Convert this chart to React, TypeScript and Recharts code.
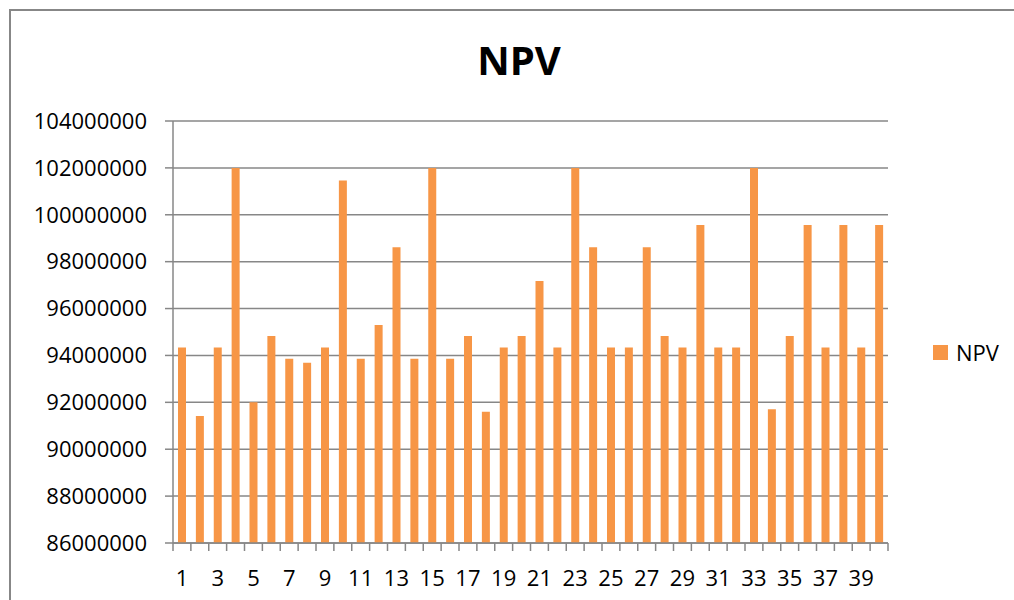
import { Bar, BarChart, CartesianGrid, Legend, XAxis, YAxis } from "recharts";

const categories = Array.from({ length: 40 }, (_, i) => String(i + 1));

// NPV per scenario
const npvValues = [
  94340000, 91420000, 94340000, 102000000, 92000000, 94830000, 93860000, 93690000, 94340000, 101460000,
  93860000, 95300000, 98610000, 93860000, 102000000, 93860000, 94830000, 91600000, 94340000, 94830000,
  97180000, 94340000, 102000000, 98610000, 94340000, 94340000, 98610000, 94830000, 94340000, 99560000,
  94340000, 94340000, 102000000, 91700000, 94830000, 99560000, 94340000, 99560000, 94340000, 99560000,
];

const yTicks = [86000000, 88000000, 90000000, 92000000, 94000000, 96000000, 98000000, 100000000, 102000000, 104000000];

const data = categories.map((c, i) => ({ name: c, NPV: npvValues[i] }));

const FONT = "'Open Sans', 'Liberation Sans', sans-serif";
const ORANGE = "#F79646";
const GRAY = "#878787";
const X_TICK_SIZE = 8;
const X_TICK_MARGIN = 19;

// Excel puts the tick marks between categories and labels every other one
function XTick(props: any) {
  const { x, y, payload, index } = props;
  const half = payload?.offset ?? 0;
  const axisY = y - X_TICK_SIZE - X_TICK_MARGIN;
  const isLast = index === categories.length - 1;
  return (
    <g>
      <line x1={x - half} x2={x - half} y1={axisY} y2={axisY + X_TICK_SIZE} stroke={GRAY} strokeWidth={1.5} />
      {isLast ? (
        <line x1={x + half} x2={x + half} y1={axisY} y2={axisY + X_TICK_SIZE} stroke={GRAY} strokeWidth={1.5} />
      ) : null}
      {index % 2 === 0 ? (
        <text x={x} y={y} dy="0.71em" textAnchor="middle" fill="#000" fontSize={22} fontFamily={FONT}>
          {payload.value}
        </text>
      ) : null}
    </g>
  );
}

function LegendBox() {
  return (
    <div style={{ display: "flex", alignItems: "center", fontFamily: FONT, fontSize: 22, color: "#000" }}>
      <span style={{ display: "inline-block", width: 15, height: 15, background: ORANGE, marginRight: 8 }} />
      NPV
    </div>
  );
}

export default function App() {
  return (
    <div style={{ position: "fixed", left: 0, top: 0, width: 1014, height: 600, background: "#fff", overflow: "hidden" }}>
      <div
        style={{
          position: "absolute",
          left: 9,
          top: 9,
          width: 1100,
          height: 700,
          borderLeft: `2px solid ${GRAY}`,
          borderTop: `2px solid ${GRAY}`,
        }}
      />
      <div
        style={{
          position: "absolute",
          left: 0,
          width: 1038,
          top: 30,
          textAlign: "center",
          fontFamily: FONT,
          fontWeight: 700,
          fontSize: 40,
          lineHeight: "60px",
        }}
      >
        NPV
      </div>
      <div style={{ position: "absolute", left: 0, top: 0 }}>
        <BarChart width={1014} height={600} data={data} margin={{ top: 121, right: 126, left: 0, bottom: 0 }}>
          <CartesianGrid vertical={false} stroke={GRAY} strokeWidth={1.5} />
          <XAxis
            dataKey="name"
            interval={0}
            height={57}
            tickLine={false}
            tickSize={X_TICK_SIZE}
            tickMargin={X_TICK_MARGIN}
            axisLine={{ stroke: GRAY, strokeWidth: 1.5 }}
            tick={<XTick />}
          />
          <YAxis
            domain={[86000000, 104000000]}
            ticks={yTicks}
            interval={0}
            width={173}
            tickSize={8}
            tickMargin={18}
            axisLine={{ stroke: GRAY, strokeWidth: 1.5 }}
            tickLine={{ stroke: GRAY, strokeWidth: 1.5 }}
            tick={{ fill: "#000", fontSize: 22, fontFamily: FONT }}
          />
          <Legend
            layout="horizontal"
            align="center"
            verticalAlign="middle"
            content={() => <LegendBox />}
            wrapperStyle={{ left: 933, top: 337, width: 80 }}
          />
          <Bar dataKey="NPV" fill={ORANGE} barSize={8} isAnimationActive={false} />
        </BarChart>
      </div>
    </div>
  );
}
